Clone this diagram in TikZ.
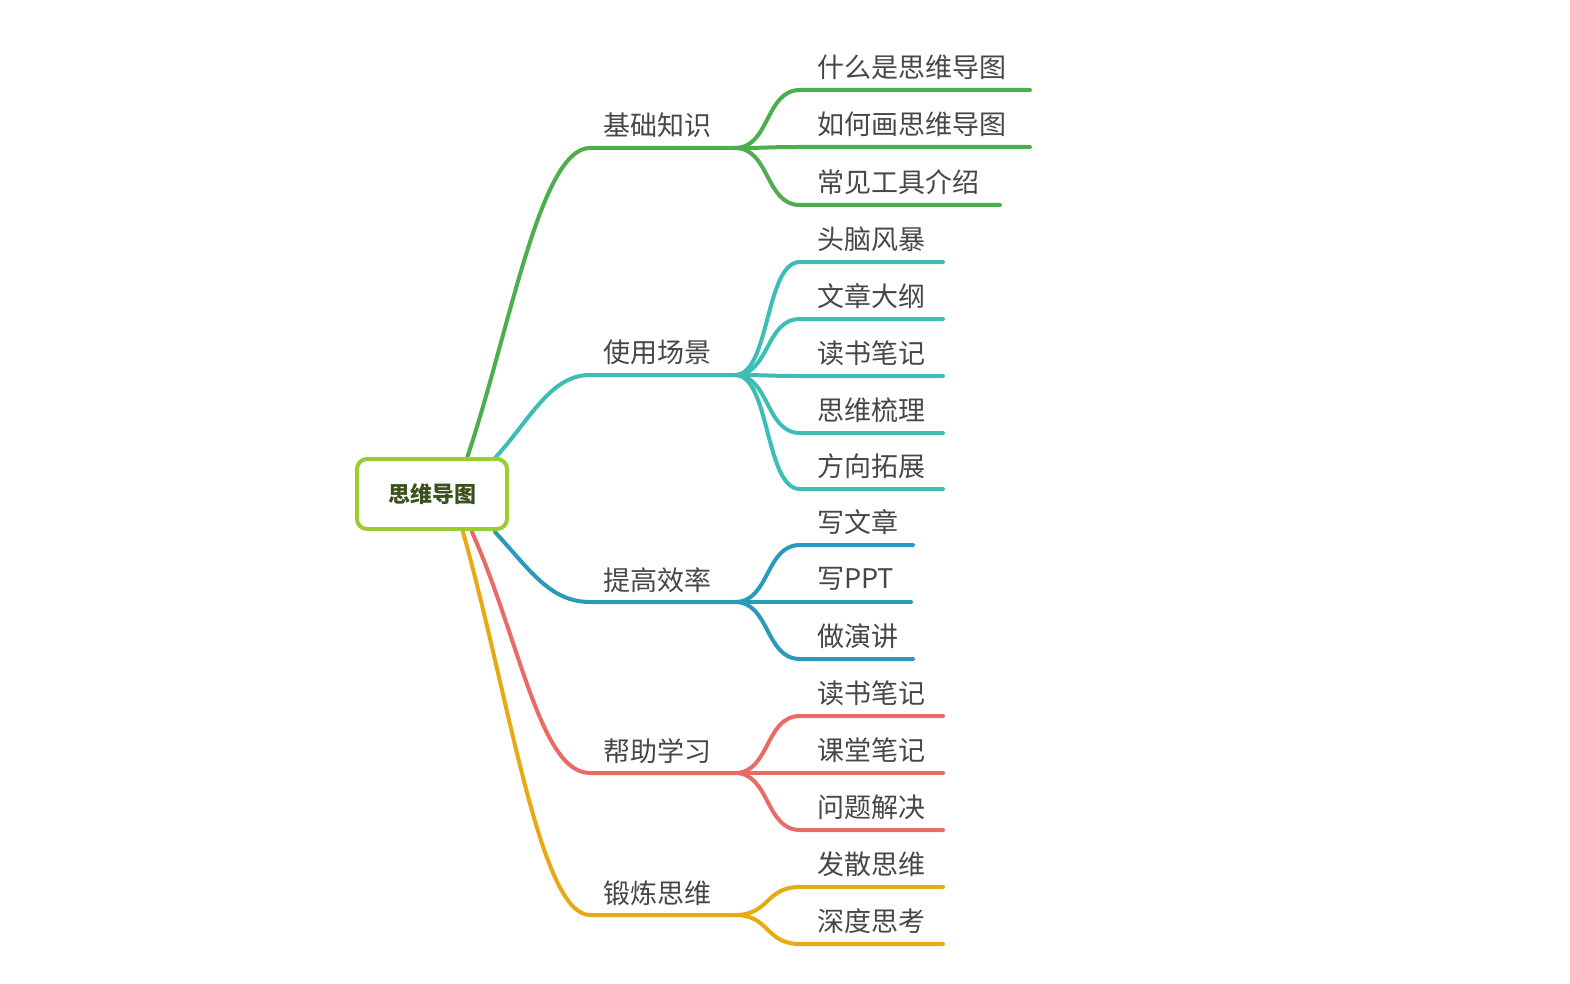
\documentclass[tikz,border=0pt]{standalone}
\usepackage{fontspec}
\usetikzlibrary{calc}
\newfontfamily\cjk{Noto Sans CJK SC}
\begin{document}
\begin{tikzpicture}[x=1pt,y=-1pt,
  br/.style={line width=4pt,line cap=round},
  lab/.style={font=\cjk\fontsize{27}{30}\selectfont,text=black!72,inner sep=0pt},
  clab/.style={lab,anchor=west}]
\definecolor{cg}{HTML}{4CAE4C}\definecolor{ct}{HTML}{3DBDB5}
\definecolor{cb}{HTML}{2A9ABB}\definecolor{cr}{HTML}{EA6B66}
\definecolor{co}{HTML}{E8AA14}\definecolor{rootc}{HTML}{9ACD32}
\useasboundingbox (0,0) rectangle (1570,984);
\fill[white] (0,0) rectangle (1570,984);
% branches
\coordinate (sg) at (467,458); \coordinate (st) at (495,458);
\coordinate (sb) at (495,532); \coordinate (sr) at (472,532); \coordinate (so) at (463,532);
\foreach \y/\n in {148/g, 375/t, 602/b, 773/r, 915/o}{
  \coordinate (a\n) at (590,\y); \coordinate (h\n) at (735,\y);
}
\draw[br,cg] (sg) .. controls (510,330) and (540,148) .. (ag) -- (hg);
\draw[br,ct] (st) .. controls (530,420) and (550,375) .. (at) -- (ht);
\draw[br,cb] (sb) .. controls (530,570) and (550,602) .. (ab) -- (hb);
\draw[br,cr] (sr) .. controls (520,640) and (540,773) .. (ar) -- (hr);
\draw[br,co] (so) .. controls (510,700) and (540,915) .. (ao) -- (ho);
% root
\node[draw=rootc,line width=4pt,rounded corners=10pt,fill=white,minimum width=150pt,minimum height=70pt,
  font=\cjk\bfseries\fontsize{22}{24}\selectfont,text={rgb,255:red,60;green,80;blue,30}] (root) at (432,494) {思维导图};
% branch labels
\node[lab] (lg) at (657,125) {基础知识};
\node[lab] (lt) at (657,352) {使用场景};
\node[lab] (lb) at (657,580) {提高效率};
\node[lab] (lr) at (657,751) {帮助学习};
\node[lab] (lo) at (657,893) {锻炼思维};
% children
\foreach \h/\c/\y/\e/\t/\i in {
 hg/cg/90/1030/什么是思维导图/1, hg/cg/147/1030/如何画思维导图/2, hg/cg/205/1000/常见工具介绍/3,
 ht/ct/262/943/头脑风暴/4, ht/ct/319/943/文章大纲/5, ht/ct/376/943/读书笔记/6, ht/ct/433/943/思维梳理/7, ht/ct/489/943/方向拓展/8,
 hb/cb/545/913/写文章/9, hb/cb/602/911/写PPT/10, hb/cb/659/913/做演讲/11,
 hr/cr/716/943/读书笔记/12, hr/cr/773/943/课堂笔记/13, hr/cr/830/943/问题解决/14,
 ho/co/887/943/发散思维/15, ho/co/944/943/深度思考/16}{
  \coordinate (k\i) at (800,\y); \coordinate (e\i) at (\e,\y);
  \draw[br,\c] (\h) .. controls ($(\h)+(35,0)$) and ($(k\i)+(-35,0)$) .. (k\i) -- (e\i);
  \node[clab] (c\i) at (817,\y-23) {\t};
}
\end{tikzpicture}
\end{document}
